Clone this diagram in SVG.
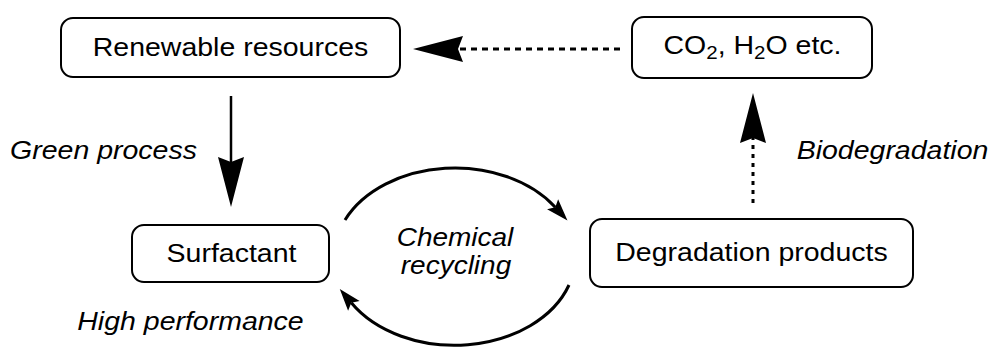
<svg xmlns="http://www.w3.org/2000/svg" width="992" height="347" viewBox="0 0 992 347">
<style>
.box{fill:#fff;stroke:#000;stroke-width:2}
.t{font-family:"Liberation Sans",Arial,sans-serif;font-size:25px;fill:#000;text-anchor:middle}
.i{font-style:italic}
.ln{fill:none;stroke:#000;stroke-width:3}
.dh{stroke-dasharray:6 5}
.dv{stroke-dasharray:4 5}
</style>
<defs>
<marker id="big" markerUnits="userSpaceOnUse" markerWidth="60" markerHeight="30" refX="0" refY="0" orient="auto" overflow="visible">
<path d="M45,0 L-5,-13 L0,0 L-5,13 Z" fill="#000" stroke="none"/>
</marker>
<marker id="small" markerUnits="userSpaceOnUse" markerWidth="30" markerHeight="20" refX="0" refY="0" orient="auto" overflow="visible">
<path d="M18,0 L-4,-7.5 L0,0 L-4,7.5 Z" fill="#000" stroke="none"/>
</marker>
</defs>
<rect width="992" height="347" fill="#fff"/>
<g id="connectors">
<path class="ln dh" d="M620,49 L458,49" marker-end="url(#big)"/>
<path class="ln" style="stroke-width:2.5" d="M231,96 L231,162" marker-end="url(#big)"/>
<path class="ln dv" d="M753,203 L753,138" marker-end="url(#big)"/>
<path class="ln" d="M345,220 A121,89 0 0,1 555.3,207.2" marker-end="url(#small)"/>
<path class="ln" d="M569,285 A121,89 0 0,1 351.3,302.8" marker-end="url(#small)"/>
</g>
<g id="renewable">
<rect class="box" x="61" y="18" width="339" height="59" rx="12"/>
<text class="t" transform="translate(230.5,56) scale(1.14,1)">Renewable resources</text>
</g>
<g id="co2">
<rect class="box" x="632" y="17" width="240" height="61" rx="12"/>
<text class="t" transform="translate(752.5,54) scale(1.14,1)">CO<tspan font-size="18" dy="5">2</tspan><tspan dy="-5">, H</tspan><tspan font-size="18" dy="5">2</tspan><tspan dy="-5">O etc.</tspan></text>
</g>
<g id="surfactant">
<rect class="box" x="132" y="225" width="197" height="57" rx="12"/>
<text class="t" transform="translate(231.5,262) scale(1.14,1)">Surfactant</text>
</g>
<g id="degradation">
<rect class="box" x="590" y="219" width="323" height="68" rx="12"/>
<text class="t" transform="translate(751.5,261) scale(1.14,1)">Degradation products</text>
</g>
<g id="labels">
<text class="t i" transform="translate(103.5,159) scale(1.14,1)">Green process</text>
<text class="t i" transform="translate(892.5,159) scale(1.14,1)">Biodegradation</text>
<text class="t i" transform="translate(190.5,330) scale(1.14,1)">High performance</text>
<text class="t i" transform="translate(455,246) scale(1.12,1)">Chemical</text>
<text class="t i" transform="translate(456,274) scale(1.12,1)">recycling</text>
</g>
</svg>
